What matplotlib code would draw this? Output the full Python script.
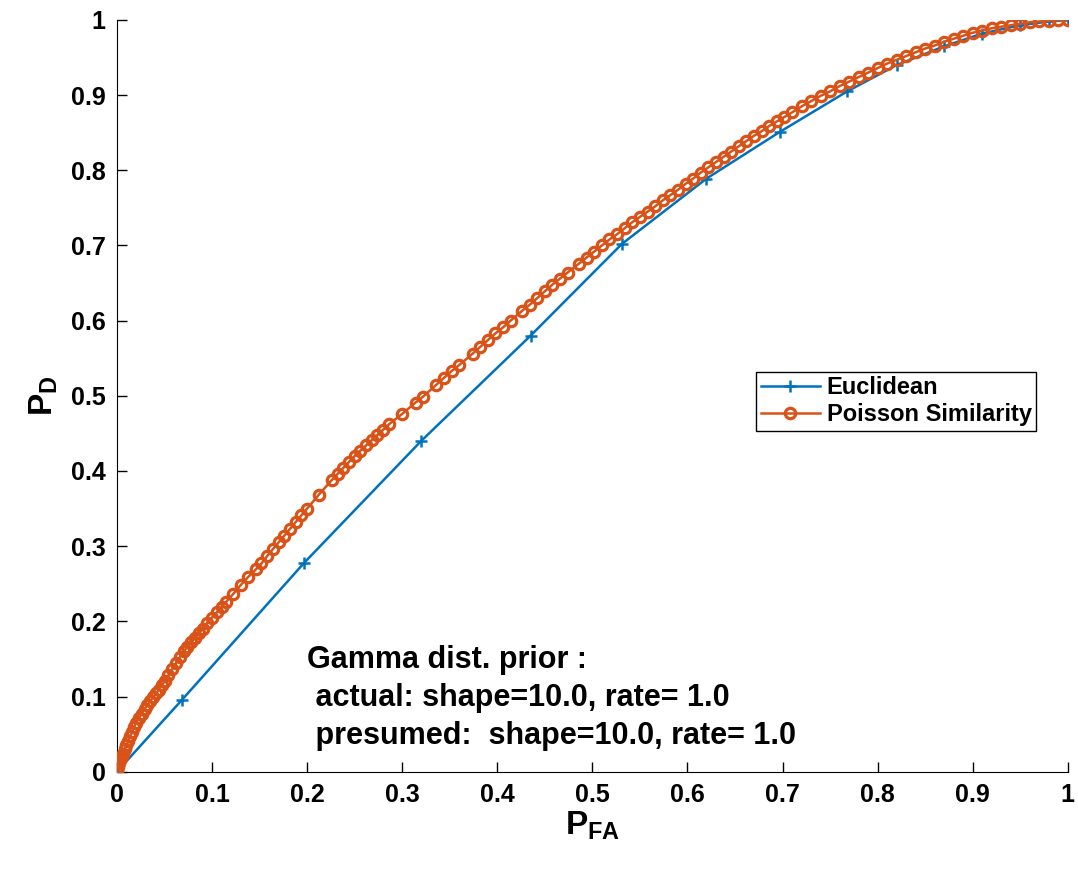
import matplotlib
matplotlib.use('Agg')
import matplotlib.pyplot as plt

plt.rcParams['font.family'] = 'Liberation Sans'
plt.rcParams['font.weight'] = 'bold'
plt.rcParams['mathtext.fontset'] = 'custom'
plt.rcParams['mathtext.rm'] = 'Liberation Sans:bold'
plt.rcParams['mathtext.bf'] = 'Liberation Sans:bold'

BLUE = '#0072BD'
ORANGE = '#D95319'

# Euclidean ROC
eu_pfa = [0.0, 0.068, 0.197, 0.320, 0.435, 0.531, 0.620, 0.697, 0.768, 0.820,
          0.870, 0.910, 0.950, 0.980, 1.0]
eu_pd = [0.0, 0.095, 0.278, 0.440, 0.580, 0.702, 0.789, 0.851, 0.905, 0.940,
         0.965, 0.982, 0.993, 0.998, 1.0]

# Poisson similarity ROC
ps_pfa = [0.000, 0.001, 0.002, 0.003, 0.004, 0.005, 0.006, 0.008, 0.010, 0.012,
          0.014, 0.016, 0.018, 0.020, 0.023, 0.026, 0.029, 0.032, 0.035, 0.038,
          0.041, 0.044, 0.047, 0.050, 0.054, 0.058, 0.062, 0.066, 0.070, 0.074,
          0.078, 0.082, 0.086, 0.090, 0.095, 0.100, 0.105, 0.110, 0.115, 0.122,
          0.130, 0.138, 0.146, 0.152, 0.158, 0.164, 0.170, 0.176, 0.182, 0.188,
          0.194, 0.200, 0.212, 0.226, 0.232, 0.238, 0.244, 0.250, 0.256, 0.262,
          0.268, 0.274, 0.280, 0.286, 0.300, 0.314, 0.322, 0.336, 0.344, 0.352,
          0.360, 0.374, 0.382, 0.390, 0.398, 0.406, 0.414, 0.426, 0.434, 0.442,
          0.450, 0.458, 0.466, 0.474, 0.486, 0.494, 0.502, 0.510, 0.518, 0.526,
          0.534, 0.542, 0.550, 0.558, 0.566, 0.574, 0.582, 0.590, 0.598, 0.606,
          0.614, 0.622, 0.630, 0.638, 0.646, 0.654, 0.662, 0.670, 0.678, 0.686,
          0.694, 0.702, 0.710, 0.720, 0.730, 0.740, 0.750, 0.760, 0.770, 0.780,
          0.790, 0.800, 0.810, 0.820, 0.830, 0.840, 0.850, 0.860, 0.870, 0.880,
          0.890, 0.900, 0.910, 0.920, 0.930, 0.940, 0.950, 0.960, 0.970, 0.980,
          0.990, 1.000]
ps_pd = [0.000, 0.006, 0.011, 0.015, 0.018, 0.021, 0.024, 0.030, 0.035, 0.041,
         0.047, 0.053, 0.059, 0.065, 0.071, 0.077, 0.083, 0.089, 0.094, 0.099,
         0.104, 0.109, 0.115, 0.120, 0.128, 0.136, 0.144, 0.152, 0.160, 0.166,
         0.172, 0.178, 0.184, 0.190, 0.198, 0.205, 0.212, 0.219, 0.226, 0.236,
         0.248, 0.259, 0.269, 0.277, 0.287, 0.296, 0.305, 0.314, 0.323, 0.332,
         0.341, 0.350, 0.368, 0.388, 0.396, 0.404, 0.412, 0.420, 0.427, 0.434,
         0.441, 0.448, 0.455, 0.462, 0.476, 0.491, 0.499, 0.515, 0.524, 0.533,
         0.541, 0.556, 0.565, 0.574, 0.583, 0.591, 0.600, 0.613, 0.621, 0.630,
         0.639, 0.648, 0.656, 0.664, 0.676, 0.684, 0.692, 0.700, 0.708, 0.715,
         0.723, 0.731, 0.738, 0.745, 0.752, 0.760, 0.767, 0.774, 0.782, 0.789,
         0.797, 0.804, 0.811, 0.818, 0.825, 0.832, 0.839, 0.846, 0.852, 0.859,
         0.865, 0.871, 0.877, 0.885, 0.892, 0.899, 0.905, 0.912, 0.918, 0.924,
         0.930, 0.936, 0.942, 0.947, 0.952, 0.957, 0.962, 0.966, 0.971, 0.975,
         0.979, 0.983, 0.986, 0.989, 0.991, 0.993, 0.995, 0.997, 0.998, 0.999,
         1.000, 1.000]

ticks = [0, 0.1, 0.2, 0.3, 0.4, 0.5, 0.6, 0.7, 0.8, 0.9, 1]
tick_labels = ['0', '0.1', '0.2', '0.3', '0.4', '0.5', '0.6', '0.7', '0.8', '0.9', '1']

fig = plt.figure(figsize=(10.78, 8.69), dpi=100)
ax = fig.add_axes([0.1085, 0.112, 0.882, 0.865])

ax.plot(eu_pfa, eu_pd, '-+', color=BLUE, linewidth=1.8, markersize=9,
        markeredgewidth=1.8, label='Euclidean', zorder=2)
ax.plot(ps_pfa, ps_pd, '-o', color=ORANGE, linewidth=1.8, markersize=7.5,
        markerfacecolor='none', markeredgewidth=2.3,
        label='Poisson Similarity', zorder=3)

ax.set_xlim(0, 1)
ax.set_ylim(0, 1)
ax.set_xticks(ticks)
ax.set_xticklabels(tick_labels)
ax.set_yticks(ticks)
ax.set_yticklabels(tick_labels)
ax.tick_params(direction='in', length=7, width=1, labelsize=18, pad=8)
for lab in ax.get_xticklabels() + ax.get_yticklabels():
    lab.set_fontweight('bold')
ax.spines['top'].set_visible(False)
ax.spines['right'].set_visible(False)

ax.set_xlabel(r'$\mathbf{P_{FA}}$', fontsize=24, labelpad=2)
ax.set_ylabel(r'$\mathbf{P_{D}}$', fontsize=24, labelpad=8)

leg = ax.legend(loc='upper left', bbox_to_anchor=(0.672, 0.532), fontsize=17,
                fancybox=False, edgecolor='black', framealpha=1,
                handlelength=2.5, borderpad=0.2, labelspacing=0.15,
                handletextpad=0.3, borderaxespad=0)
leg.get_frame().set_linewidth(1.0)
for t in leg.get_texts():
    t.set_fontweight('bold')

ax.text(0.2, 0.168, 'Gamma dist. prior :\n actual: shape=10.0, rate= 1.0\n presumed:  shape=10.0, rate= 1.0',
        transform=ax.transData, fontsize=22, fontweight='bold', va='top',
        ha='left', linespacing=1.35)

fig.savefig('out.png', dpi=100)
